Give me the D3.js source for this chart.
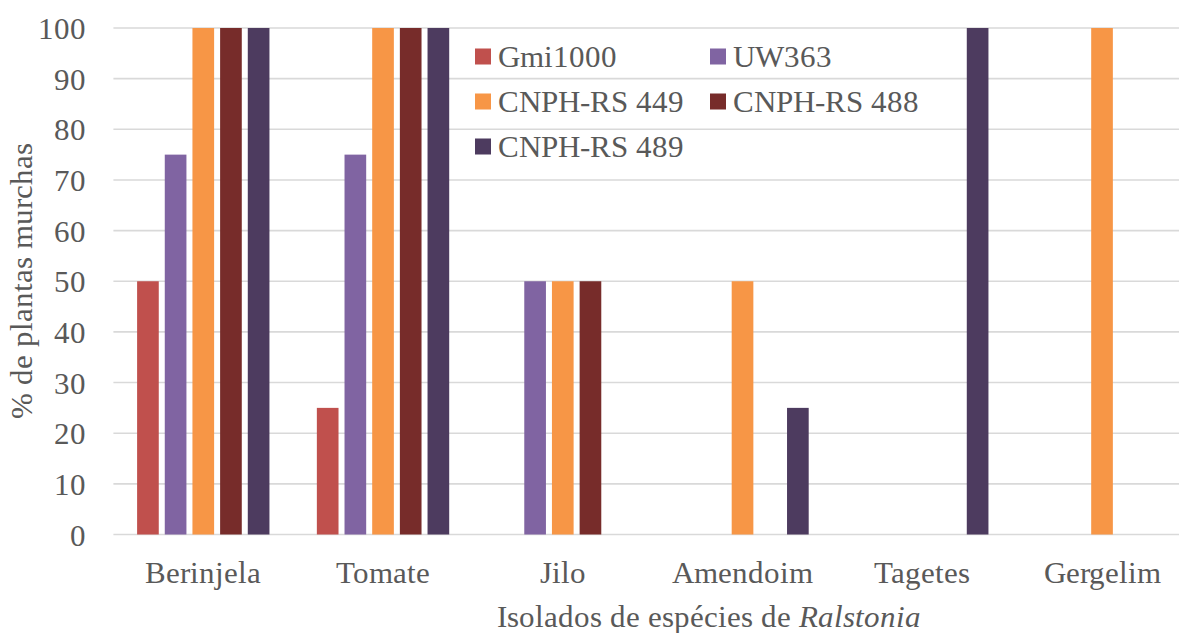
<!DOCTYPE html>
<html>
<head>
<meta charset="utf-8">
<script src="https://cdn.jsdelivr.net/npm/d3@7"></script>
<style>
  @font-face { font-family: "ChartSerif"; src: local("Liberation Serif"), local("LiberationSerif"), local("Liberation Serif Regular"), local("LiberationSerif-Regular"); font-style: normal; }
  @font-face { font-family: "ChartSerif"; src: local("Liberation Serif Italic"), local("LiberationSerif-Italic"); font-style: italic; }
  html, body { margin: 0; padding: 0; background: #fff; overflow: hidden; }
  svg { display: block; }
</style>
</head>
<body>
<svg id="chart" width="1179" height="633"></svg>
<script>
// Plant hosts tested
const categories = ["Berinjela", "Tomate", "Jilo", "Amendoim", "Tagetes", "Gergelim"];
// Ralstonia isolates (series)
const seriesNames = ["Gmi1000", "UW363", "CNPH-RS 449", "CNPH-RS 488", "CNPH-RS 489"];
const seriesColors = ["#C0504D", "#8064A2", "#F79646", "#772C2A", "#4D3B5F"];
// % wilted plants per isolate, one entry per host
const gmi1000 = [50, 25, 0, 0, 0, 0];
const uw363 = [75, 75, 50, 0, 0, 0];
const cnph449 = [100, 100, 50, 50, 0, 100];
const cnph488 = [100, 100, 50, 0, 0, 0];
const cnph489 = [100, 100, 0, 25, 100, 0];
const seriesValues = [gmi1000, uw363, cnph449, cnph488, cnph489];
const yTicks = [0, 10, 20, 30, 40, 50, 60, 70, 80, 90, 100];

const serifStack = "ChartSerif, 'Liberation Serif', 'Times New Roman', serif";
const labelSize = 31;
const labelColor = "#595959";

const svg = d3.select("#chart");
const plotLeft = 113.4, plotRight = 1191.9, plotTop = 28, plotBottom = 534.5;

const x0 = d3.scaleBand().domain(categories).range([plotLeft, plotRight]).padding(0);
const x1 = d3.scaleBand().domain(seriesNames)
  .range([23.7, x0.bandwidth() - 23.7]).paddingInner(0.217).paddingOuter(0);
const y = d3.scaleLinear().domain([0, 100]).range([plotBottom, plotTop]);

function styleText(sel) {
  return sel
    .attr("font-family", serifStack)
    .attr("font-size", labelSize)
    .attr("fill", labelColor)
    .style("font-family", serifStack)
    .style("font-size", labelSize + "px")
    .style("fill", labelColor);
}

// horizontal gridlines
svg.append("g").selectAll("line").data(yTicks).join("line")
  .attr("x1", plotLeft).attr("x2", 1179)
  .attr("y1", d => y(d)).attr("y2", d => y(d))
  .attr("stroke", "#D9D9D9").attr("stroke-width", 1.6);

// bars
const rows = [];
seriesNames.forEach((s, si) => categories.forEach((c, ci) => {
  rows.push({ s, c, v: seriesValues[si][ci], color: seriesColors[si] });
}));
svg.append("g").selectAll("rect").data(rows.filter(d => d.v > 0)).join("rect")
  .attr("x", d => x0(d.c) + x1(d.s))
  .attr("width", x1.bandwidth())
  .attr("y", d => y(d.v))
  .attr("height", d => y(0) - y(d.v))
  .attr("fill", d => d.color);

// y tick labels
const yAxis = d3.axisLeft(y).tickValues(yTicks).tickSize(0).tickPadding(0);
const ya = svg.append("g").attr("transform", "translate(86,0)").call(yAxis)
  .attr("font-family", serifStack).attr("font-size", labelSize);
ya.select(".domain").remove();
styleText(ya.selectAll("text")).attr("dy", "0.34em");

// x category labels
const xAxis = d3.axisBottom(x0).tickSize(0).tickPadding(0);
const xa = svg.append("g").attr("transform", "translate(0,583)").call(xAxis)
  .attr("font-family", serifStack).attr("font-size", labelSize);
xa.select(".domain").remove();
styleText(xa.selectAll("text")).attr("dy", 0).attr("y", 0);

// axis titles
const xt = styleText(svg.append("text")).attr("x", 709).attr("y", 627)
  .attr("text-anchor", "middle");
xt.append("tspan").text("Isolados de espécies de ");
xt.append("tspan").style("font-style", "italic").text("Ralstonia");

styleText(svg.append("text"))
  .attr("transform", "translate(32,281) rotate(-90)")
  .attr("text-anchor", "middle")
  .text("% de plantas murchas");

// legend
const legendPos = [[475, 56.5], [710, 56.5], [475, 101.5], [710, 101.5], [475, 146.5]];
const lg = svg.append("g").selectAll("g").data(seriesNames).join("g")
  .attr("transform", (d, i) => `translate(${legendPos[i][0]},${legendPos[i][1]})`);
lg.append("rect").attr("x", 0).attr("y", -8).attr("width", 16).attr("height", 16)
  .attr("fill", (d, i) => seriesColors[i]);
styleText(lg.append("text")).attr("x", 23).attr("dy", "0.34em").text(d => d);
</script>
</body>
</html>
